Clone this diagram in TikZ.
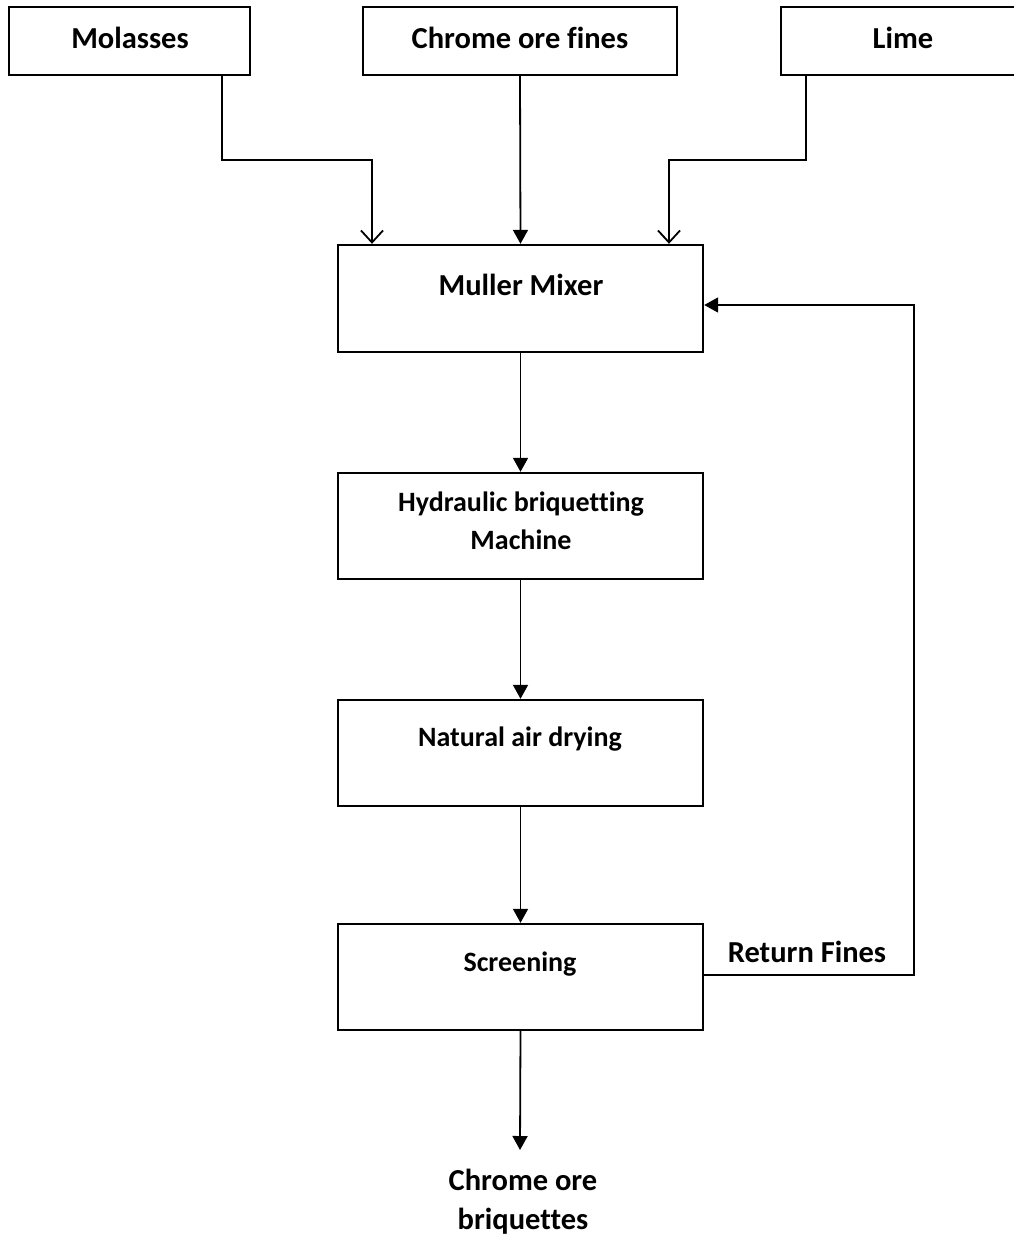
\documentclass[tikz,border=0pt]{standalone}
\usepackage{fontspec}
\setmainfont{Carlito}[Ligatures=NoCommon]
\usetikzlibrary{arrows.meta}
\begin{document}
\begin{tikzpicture}[x=1pt,y=-1pt,
  box/.style={draw,line width=2.4pt,rectangle,inner sep=0pt},
  lbl/.style={inner sep=0pt,font=\fontsize{30.5}{39}\selectfont\bfseries,align=center},
  lblsmall/.style={inner sep=0pt,font=\fontsize{28}{38}\selectfont\bfseries,align=center},
  flow/.style={line width=1.8pt,-{Triangle[length=14pt,width=15pt]}},
  openflow/.style={line width=1.8pt,-{Straight Barb[length=12pt,width=22pt,line width=1.8pt]}}]
\useasboundingbox (0,0) rectangle (1014,1240);
\clip (0,0) rectangle (1014,1240);
% boxes
\node[box,minimum width=241pt,minimum height=68pt] (mol) at (129.5,41) {};
\node[box,minimum width=314pt,minimum height=68pt] (cof) at (520,41) {};
\node[box,minimum width=250pt,minimum height=68pt] (lime) at (906,41) {};
\node[box,minimum width=365pt,minimum height=107pt] (mix) at (520.5,298.5) {};
\node[box,minimum width=365pt,minimum height=106pt] (hyd) at (520.5,526) {};
\node[box,minimum width=365pt,minimum height=106pt] (dry) at (520.5,753) {};
\node[box,minimum width=365pt,minimum height=106pt] (scr) at (520.5,977) {};
% labels
\node[lbl] (molt) at (130,38) {Molasses};
\node[lbl] (coft) at (520,38) {Chrome ore fines};
\node[lbl] (limet) at (903,38) {Lime};
\node[lbl] (mixt) at (521,285) {Muller Mixer};
\node[lblsmall] (hydt) at (521,521) {Hydraulic briquetting\\Machine};
\node[lblsmall] (dryt) at (520,739) {Natural air drying};
\node[lblsmall] (scrt) at (520,964) {Screening};
\node[lbl] (ret) at (807,952) {Return Fines};
\node[lbl] (out) at (523,1202) {Chrome ore\\briquettes};
\coordinate (outtop) at (520,1150);
% connectors
\draw[openflow] (mol.south -| 222,0) |- (372,160) -- (mix.north -| 372,0);
\draw[flow] (cof.south) -- (mix.north);
\draw[openflow] (lime.south -| 806,0) |- (669,160) -- (mix.north -| 669,0);
\draw[flow] (mix.south) -- (hyd.north);
\draw[flow] (hyd.south) -- (dry.north);
\draw[flow] (dry.south) -- (scr.north);
\draw[flow] (scr.south) -- (outtop);
\draw[flow] (scr.east |- 0,975) -- (914,975) |- (mix.east |- 0,305);
\end{tikzpicture}
\end{document}
